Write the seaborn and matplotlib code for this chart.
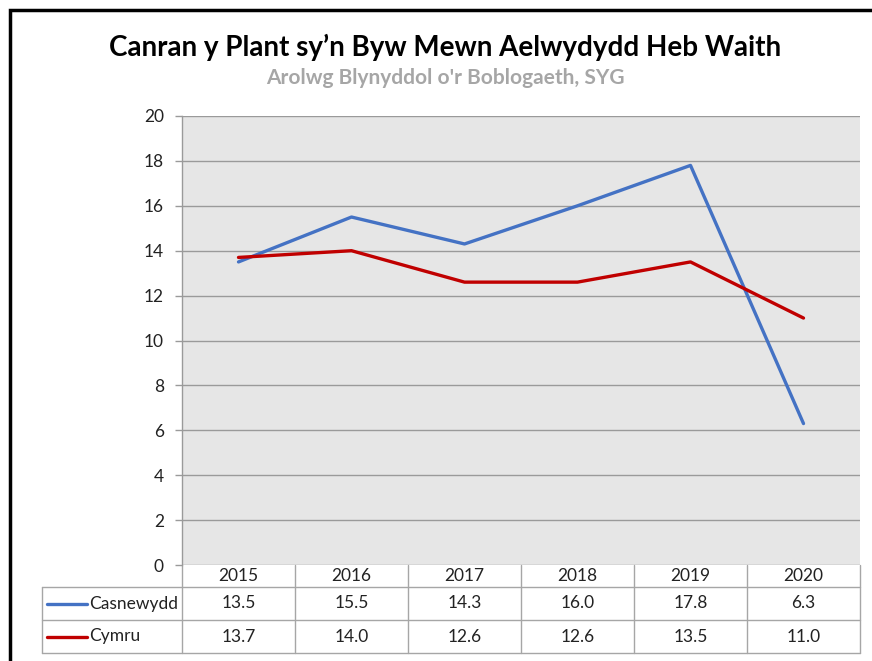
import numpy as np
import pandas as pd
import matplotlib
matplotlib.use("Agg")
import matplotlib.pyplot as plt
from matplotlib.patches import Rectangle
import seaborn as sns

# chart data
years = ["2015", "2016", "2017", "2018", "2019", "2020"]
casnewydd = [13.5, 15.5, 14.3, 16.0, 17.8, 6.3]
cymru = [13.7, 14.0, 12.6, 12.6, 13.5, 11.0]
series_names = ["Casnewydd", "Cymru"]
colors = {"Casnewydd": "#4472C4", "Cymru": "#C00000"}
y_ticks = [0, 2, 4, 6, 8, 10, 12, 14, 16, 18, 20]

title = "Canran y Plant sy\u2019n Byw Mewn Aelwydydd Heb Waith"
subtitle = "Arolwg Blynyddol o'r Boblogaeth, SYG"

df = pd.DataFrame({
    "year": years * 2,
    "value": casnewydd + cymru,
    "series": [series_names[0]] * len(years) + [series_names[1]] * len(years),
})

sns.set_style("white")
plt.rcParams["font.family"] = ["Lato", "DejaVu Sans"]

W, H = 872, 661
fig = plt.figure(figsize=(W / 100, H / 100), dpi=100)

# plot area in pixels
x0, x1, y0, y1 = 182, 860, 116, 565
ax = fig.add_axes([x0 / W, 1 - y1 / H, (x1 - x0) / W, (y1 - y0) / H])
ax.set_facecolor("#e6e6e6")

sns.lineplot(data=df, x="year", y="value", hue="series", palette=colors,
             linewidth=2.4, ax=ax, legend=False, sort=False)

ax.set_xlim(-0.5, len(years) - 0.5)
ax.set_ylim(0, 20)
ax.set_yticks(y_ticks)
ax.set_xticks([])
ax.set_xlabel("")
ax.set_ylabel("")
ax.yaxis.grid(True, color="#9a9a9a", linewidth=1)
ax.set_axisbelow(True)
for s in ["top", "right", "bottom"]:
    ax.spines[s].set_visible(False)
ax.spines["left"].set_color("#9a9a9a")
ax.spines["left"].set_linewidth(1)
fs = 12.5
ax.tick_params(axis="y", left=True, length=5, color="#9a9a9a", width=1,
               labelsize=fs, labelcolor="#222222", pad=8)

# data table below the plot
ph = y1 - y0
row_h = [22, 33, 33]
tr = ax.get_xaxis_transform()
leg_left = -0.5 - (x0 - 42) / ((x1 - x0) / len(years))
edges = np.arange(len(years) + 1) - 0.5
line_kw = dict(color="#a6a6a6", linewidth=1, transform=tr, clip_on=False)

yb = [0]
for h in row_h:
    yb.append(yb[-1] - h / ph)

for e in edges:
    ax.plot([e, e], [0, yb[-1]], **line_kw)
ax.plot([leg_left, leg_left], [yb[1], yb[-1]], **line_kw)
for yy in yb[1:]:
    ax.plot([leg_left, edges[-1]], [yy, yy], **line_kw)

for i, yr in enumerate(years):
    ax.text(i, (yb[0] + yb[1]) / 2, yr, transform=tr, ha="center",
            va="center", fontsize=fs, color="#222222")

for r, (name, vals) in enumerate(zip(series_names, [casnewydd, cymru])):
    yc = (yb[r + 1] + yb[r + 2]) / 2
    ax.plot([leg_left + 0.045, leg_left + 0.4], [yc, yc], color=colors[name],
            linewidth=2.4, transform=tr, clip_on=False)
    ax.text(leg_left + 0.415, yc, name, transform=tr, ha="left", va="center",
            fontsize=fs, color="#222222")
    for i, v in enumerate(vals):
        ax.text(i, yc, f"{v:.1f}", transform=tr, ha="center", va="center",
                fontsize=fs, color="#222222")

# titles
fig.text(445 / W, 1 - 47 / H, title, ha="center", va="center",
         fontsize=20, fontweight="bold", color="black")
fig.text(445 / W, 1 - 78 / H, subtitle, ha="center", va="center",
         fontsize=15, fontweight="bold", color="#a6a6a6")

# outer frame (cropped at the right and bottom)
fig.patches.append(Rectangle((10 / W, -0.05), 1.1, 1 - 10 / H + 0.05,
                             transform=fig.transFigure, fill=False,
                             edgecolor="black", linewidth=2.5))

fig.savefig("out.png", dpi=100)
